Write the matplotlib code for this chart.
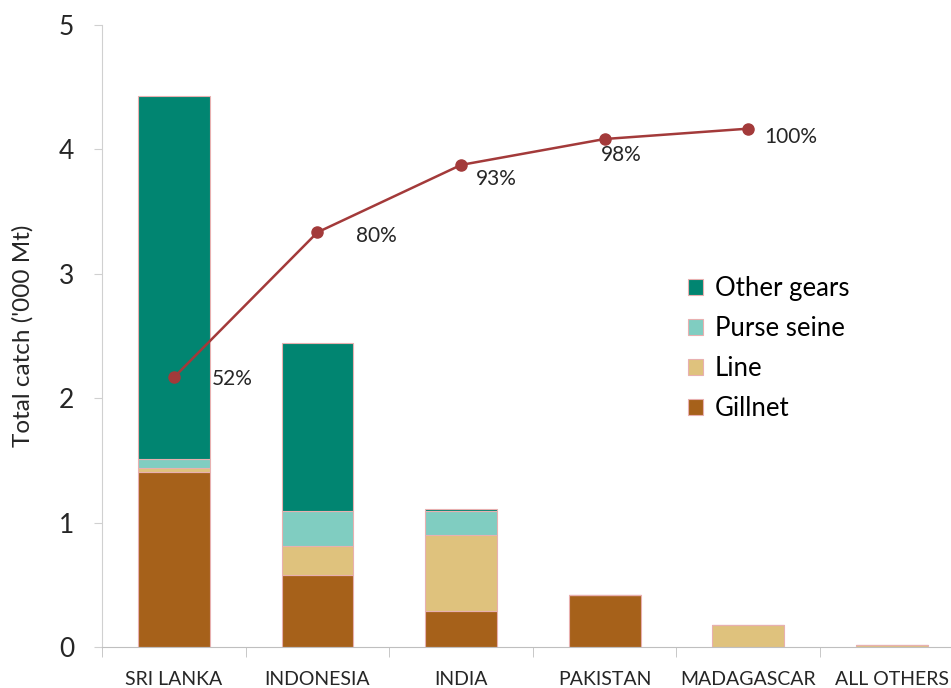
import matplotlib
matplotlib.use("Agg")
import matplotlib.pyplot as plt, numpy as np

countries = ["SRI LANKA", "INDONESIA", "INDIA", "PAKISTAN", "MADAGASCAR", "ALL OTHERS"]
gillnet = [1.41, 0.58, 0.29, 0.42, 0.0, 0.0]
line = [0.03, 0.23, 0.61, 0.0, 0.18, 0.015]
purse_seine = [0.07, 0.28, 0.19, 0.0, 0.0, 0.0]
other_gears = [2.92, 1.35, 0.02, 0.0, 0.0, 0.0]
cum_pct = [0.52, 0.80, 0.93, 0.98, 1.00]
cum_labels = ["52%", "80%", "93%", "98%", "100%"]

plt.rcParams['font.family'] = ['Lato', 'DejaVu Sans']

fig = plt.figure(figsize=(9.51, 6.88), dpi=100)
ax = fig.add_axes([0.1073, 0.0596, 0.906, 0.9041])

x = np.arange(len(countries))
edge = "#e8b0b0"
series = [("Gillnet", gillnet, "#a6611a"),
          ("Line", line, "#dfc27d"),
          ("Purse seine", purse_seine, "#80cdc1"),
          ("Other gears", other_gears, "#018571")]
bottom = np.zeros(len(countries))
handles = []
for name, vals, col in series:
    b = ax.bar(x, vals, 0.5, bottom=bottom, color=col, edgecolor=edge, linewidth=0.8, label=name)
    handles.append(b)
    bottom += np.array(vals)

ax.set_xlim(-0.5, len(countries) - 0.5)
ax.set_ylim(0, 5)
ax.set_yticks([0, 1, 2, 3, 4, 5])
ax.set_xticks(x)
ax.set_xticklabels(countries, fontsize=14, color="#262626")
ax.set_xticks(np.arange(-0.5, len(countries)), minor=True)
ax.tick_params(axis="x", which="major", length=0, pad=17)
ax.tick_params(axis="x", which="minor", length=7, color="#bfbfbf", direction="out")
ax.tick_params(axis="y", labelsize=19, length=6, color="#d0d0d0", pad=14, labelcolor="#262626")
ax.set_ylabel("Total catch ('000 Mt)", fontsize=17.5, color="#262626", labelpad=18)
for s in ["top", "right"]:
    ax.spines[s].set_visible(False)
ax.spines["left"].set_color("#d0d0d0")
ax.spines["bottom"].set_color("#bfbfbf")

ax2 = ax.twinx()
ax2.set_ylim(0, 1.2)
ax2.axis("off")
ax2.plot(x[:len(cum_pct)], cum_pct, color="#a33a3a", linewidth=1.8, marker="o", markersize=8)
label_offsets = [(38, -2), (39, -4), (15, -14), (-4, -16), (16, -8)]
for xi, yv, lab, off in zip(x, cum_pct, cum_labels, label_offsets):
    ax2.annotate(lab, (xi, yv), xytext=off, textcoords="offset pixels",
                 fontsize=15, color="#262626", ha="left", va="center")

ax.legend(handles=handles[::-1], loc="upper left", bbox_to_anchor=(0.68, 0.596),
          frameon=False, fontsize=18.5, handlelength=0.6, handleheight=0.6,
          handletextpad=0.45, labelspacing=0.58, borderaxespad=0, borderpad=0)

fig.savefig("out.png", dpi=100)
